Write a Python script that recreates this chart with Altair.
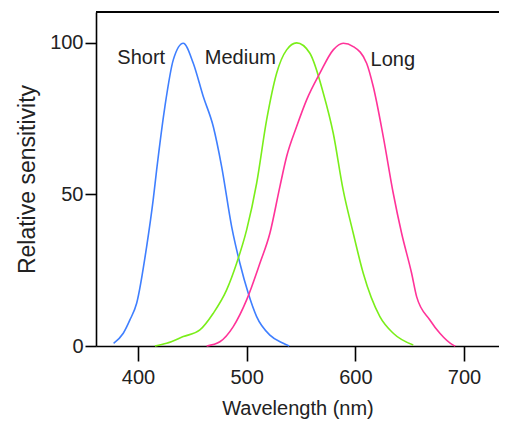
import altair as alt
import pandas as pd

# Short-wavelength cone (blue)
short_nm = [377.6, 386.5, 392.6, 398.8, 408.0, 414.0, 417.2, 424.8, 432.5, 441.7,
            450.9, 460.1, 469.3, 477.0, 486.2, 493.8, 501.5, 509.2, 521.4, 533.7, 539.2]
short_val = [0.9, 4.2, 8.6, 14.1, 32.8, 48.2, 58.1, 79.0, 94.4, 99.9,
             93.3, 82.3, 72.4, 59.2, 39.4, 27.3, 17.4, 9.7, 3.6, 0.9, 0.0]

# Medium-wavelength cone (green)
medium_nm = [415.6, 426.4, 441.7, 457.0, 469.3, 481.6, 490.8, 500.0, 509.2, 518.4, 527.6,
             536.8, 546.0, 558.2, 570.5, 579.7, 588.8, 598.1, 607.3, 622.6, 634.9, 653.3]
medium_val = [0.0, 0.9, 3.1, 5.3, 10.8, 18.5, 27.3, 38.3, 53.7, 74.6, 90.0,
              97.7, 100.0, 96.6, 83.5, 70.2, 51.5, 37.2, 24.0, 9.7, 4.2, 0.3]

# Long-wavelength cone (pink)
long_nm = [463.2, 475.4, 487.7, 500.0, 512.2, 521.4, 530.6, 536.8, 546.0, 555.2, 567.4,
           579.7, 588.9, 598.1, 610.4, 616.5, 625.7, 634.9, 642.6, 651.8, 656.4, 668.6,
           677.8, 690.1, 692.0]
long_val = [0.0, 1.4, 6.4, 15.2, 27.3, 37.2, 52.6, 62.5, 72.4, 81.2, 90.0,
            97.7, 99.9, 98.8, 93.3, 85.6, 69.1, 50.4, 37.2, 24.0, 16.3, 8.6,
            4.2, 0.3, 0.0]

series_names = ["Short", "Medium", "Long"]
series_colors = ["#3f7fff", "#7aee1a", "#ff3399"]

label_nm = [381.0, 461.5, 614.0]
label_val = [95.0, 95.0, 94.3]

x_ticks = [400, 500, 600, 700]
y_ticks = [0, 50, 100]

rows = []
for name, xs, ys in zip(series_names, [short_nm, medium_nm, long_nm], [short_val, medium_val, long_val]):
    for i, (a, b) in enumerate(zip(xs, ys)):
        rows.append({"series": name, "nm": a, "val": b, "order": i})
df = pd.DataFrame(rows)
labels_df = pd.DataFrame({"series": series_names, "nm": label_nm, "val": label_val})

FONT = "Liberation Sans, Arial, sans-serif"
W, H = 403, 334

x_scale = alt.Scale(domain=[361.4, 732.2], nice=False, zero=False)
y_scale = alt.Scale(domain=[0, 110.2], nice=False, zero=False)

lines = alt.Chart(df).mark_line(strokeWidth=1.6, interpolate="monotone").encode(
    x=alt.X("nm:Q", scale=x_scale,
            axis=alt.Axis(values=x_ticks, title="Wavelength (nm)", tickSize=15,
                          labelPadding=6, titlePadding=11, titleFontSize=20)),
    y=alt.Y("val:Q", scale=y_scale,
            axis=alt.Axis(values=y_ticks, title="Relative sensitivity", tickSize=11,
                          labelPadding=2, titlePadding=10, titleFontSize=23)),
    color=alt.Color("series:N", scale=alt.Scale(domain=series_names, range=series_colors), legend=None),
    order="order:Q",
)

texts = alt.Chart(labels_df).mark_text(align="left", baseline="middle", font=FONT,
                                        fontSize=20, color="#222222").encode(
    x=alt.X("nm:Q", scale=x_scale),
    y=alt.Y("val:Q", scale=y_scale),
    text="series:N",
)

top_border = alt.Chart(labels_df).mark_rule(color="black", strokeWidth=1.6).encode(
    x=alt.value(0), x2=alt.value(W), y=alt.value(0)
)

chart = alt.layer(lines, texts, top_border).properties(
    width=W, height=H,
    autosize=alt.AutoSizeParams(type="none"),
    padding={"left": 88, "top": 4, "right": 0, "bottom": 74},
).configure_view(stroke=None).configure_axis(
    grid=False,
    domainColor="black", domainWidth=1.6,
    tickColor="black", tickWidth=1.6,
    labelFont=FONT, labelFontSize=20, labelColor="#222222",
    titleFont=FONT, titleFontWeight="normal", titleColor="#222222",
)

chart.save("out.html", embed_options={"renderer": "svg", "actions": False})
